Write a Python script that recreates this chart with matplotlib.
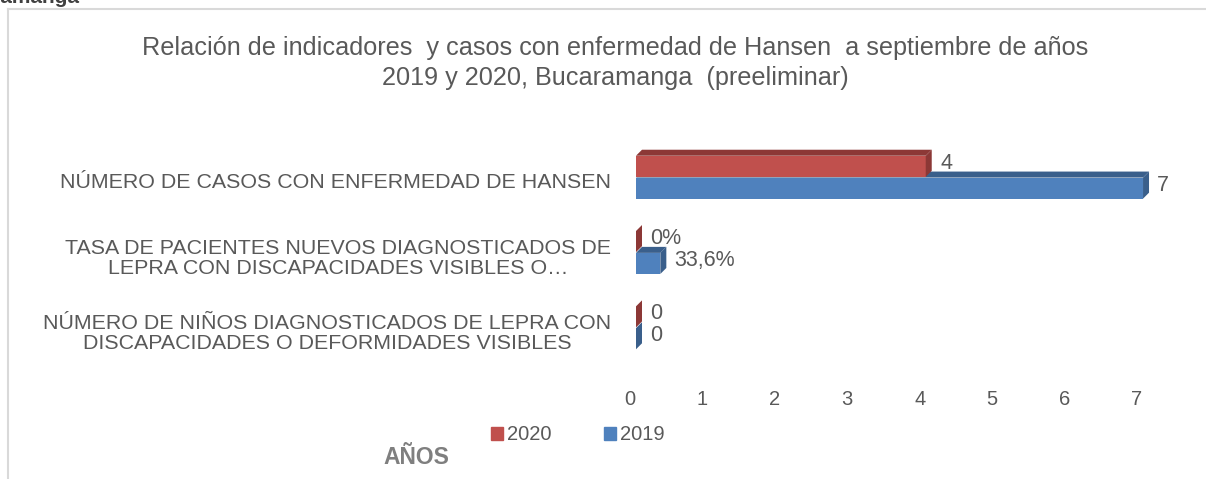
import matplotlib.pyplot as plt
import matplotlib.transforms as mtransforms
from matplotlib.patches import Polygon
from matplotlib.lines import Line2D

plt.rcParams['font.family'] = ['Liberation Sans', 'DejaVu Sans']

# data
categories = [
    "NÚMERO DE CASOS CON ENFERMEDAD DE HANSEN",
    "TASA DE PACIENTES NUEVOS DIAGNOSTICADOS DE\nLEPRA CON DISCAPACIDADES VISIBLES O…",
    "NÚMERO DE NIÑOS DIAGNOSTICADOS DE LEPRA CON\nDISCAPACIDADES O DEFORMIDADES VISIBLES",
]
values_2020 = [4, 0, 0]
values_2019 = [7, 0.336, 0]
labels_2020 = ["4", "0%", "0"]
labels_2019 = ["7", "33,6%", "0"]
xticks = [0, 1, 2, 3, 4, 5, 6, 7]

text_color = "#595959"
red, red_dark = "#C0504D", "#8C3836"
blue, blue_dark = "#4F81BD", "#3A5F8B"

W, H = 1206, 479
fig = plt.figure(figsize=(W / 100, H / 100), dpi=100)

# axes placed in pixels
left_px, right_px = 636, 1172
top_px, bot_px = 132, 373
ax = fig.add_axes([left_px / W, 1 - bot_px / H, (right_px - left_px) / W, (bot_px - top_px) / H])
xmax = 7.4
ax.set_xlim(0, xmax)
ax.set_ylim(2.6, -0.6)

px_x = xmax / (right_px - left_px)      # data units per pixel
px_y = 3.2 / (bot_px - top_px)
dx, dy = 6 * px_x, 6 * px_y             # 3d depth
h = 0.28
off = 0.145


def bar3d(y, v, front, dark, label):
    top, bot = y - h / 2, y + h / 2
    ax.barh(y, v, height=h, color=front, edgecolor="none", zorder=2)
    ax.add_patch(Polygon([(0, top), (v, top), (v + dx, top - dy), (dx, top - dy)],
                         closed=True, facecolor=dark, edgecolor="none", zorder=2))
    ax.add_patch(Polygon([(v, top), (v + dx, top - dy), (v + dx, bot - dy), (v, bot)],
                         closed=True, facecolor=dark, edgecolor="none", zorder=2))
    ax.annotate(label, (v + dx, y - 3 * px_y), xytext=(6, 0), textcoords="offset points",
                ha="left", va="center", fontsize=15.5, color=text_color)


for i in range(len(categories)):
    bar3d(i + off, values_2019[i], blue, blue_dark, labels_2019[i])
    bar3d(i - off, values_2020[i], red, red_dark, labels_2020[i])

ax.set_yticks(range(len(categories)))
ax.set_yticklabels(categories, fontsize=15.4, color=text_color, ha="right",
                   multialignment="center", linespacing=1.1)
ax.tick_params(axis="y", length=0, pad=18)
ax.set_xticks(xticks)
ax.set_xticklabels([str(t) for t in xticks], fontsize=14.5, color=text_color)
ax.tick_params(axis="x", length=0, pad=12)
for s in ax.spines.values():
    s.set_visible(False)

# labels sit on the 3d back wall: shift ticks slightly
shift_x = mtransforms.ScaledTranslation(-6 / 100, 0, fig.dpi_scale_trans)
for t in ax.get_xticklabels():
    t.set_transform(t.get_transform() + shift_x)
shift_y = mtransforms.ScaledTranslation(0, -3 / 100, fig.dpi_scale_trans)
for t in ax.get_yticklabels():
    t.set_transform(t.get_transform() + shift_y)

fig.suptitle("Relación de indicadores  y casos con enfermedad de Hansen  a septiembre de años\n"
             "2019 y 2020, Bucaramanga  (preeliminar)",
             x=615 / W, y=1 - 36 / H, va="top", fontsize=18.2, color=text_color, linespacing=1.3)

handles = [plt.Rectangle((0, 0), 1, 1, color=red), plt.Rectangle((0, 0), 1, 1, color=blue)]
fig.legend(handles, ["2020", "2019"], loc="center", bbox_to_anchor=(578 / W, 1 - 435 / H),
           ncol=2, frameon=False, handlelength=0.6, handleheight=0.6, handletextpad=0.2,
           columnspacing=2.6, fontsize=14.5, labelcolor=text_color)

fig.text(416 / W, 1 - 458 / H, "AÑOS", ha="center", va="center", fontsize=16.5,
         fontweight="bold", color="#7F7F7F")
fig.text(80 / W, 1 - 3 / H, "Bucaramanga", ha="right", va="baseline", fontsize=15,
         fontweight="bold", color="#404040")

# outer frame of the chart area
fig.add_artist(Line2D([8 / W, 1], [1 - 9 / H, 1 - 9 / H], color="#D9D9D9", lw=1.5))
fig.add_artist(Line2D([8 / W, 8 / W], [0, 1 - 9 / H], color="#D9D9D9", lw=1.5))

fig.savefig("out.png", dpi=100)
